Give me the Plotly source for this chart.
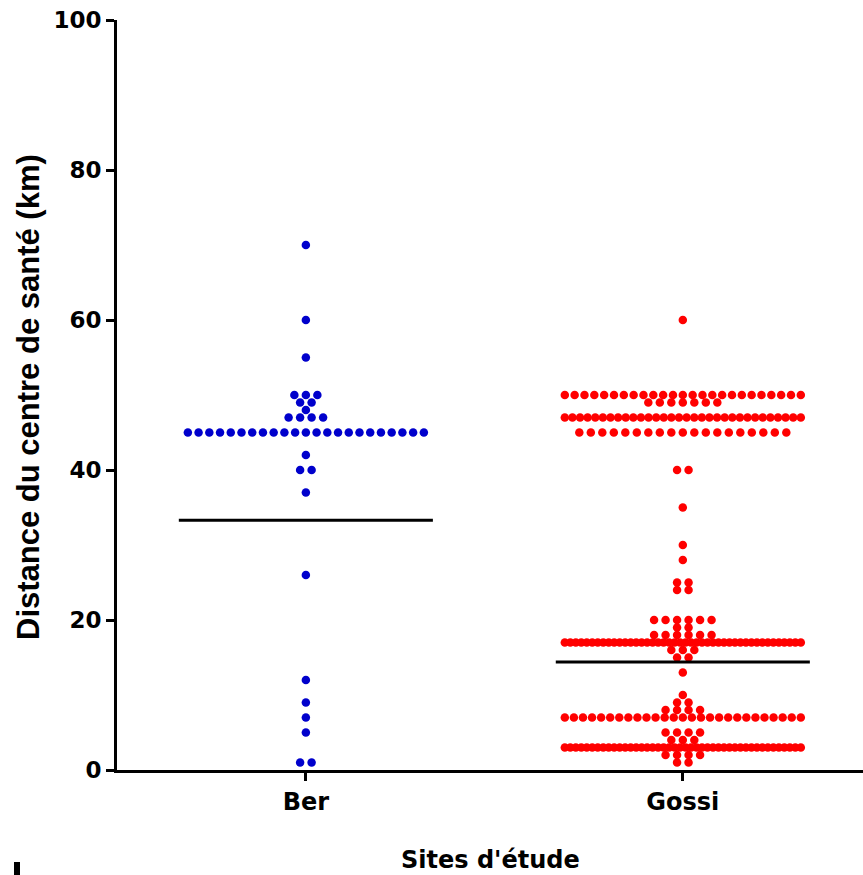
import numpy as np
import plotly.graph_objects as go

# Distance (km) to the health centre, per study site: distinct values and how many respondents gave each
sites = ["Ber", "Gossi"]

ber_values = [70, 60, 55, 50, 49, 48, 47, 45, 42, 40, 37, 26, 12, 9, 7, 5, 1]
ber_counts = [1, 1, 1, 3, 2, 1, 4, 23, 1, 2, 1, 1, 1, 1, 1, 1, 2]

gossi_values = [60, 50, 49, 47, 45, 40, 35, 30, 28, 25, 24, 20, 19, 18, 17, 16,
                15, 13, 10, 9, 8, 7, 5, 4, 3, 2, 1]
gossi_counts = [1, 25, 7, 32, 19, 2, 1, 1, 1, 2, 2, 6, 2, 6, 44, 3,
                2, 1, 1, 2, 4, 27, 4, 3, 44, 4, 2]

# Horizontal reference line drawn for each site
group_means = [33.3, 14.4]

colors = ["#0000CC", "#FF0000"]

W, H = 863, 875
ML, MR, MT, MB = 117, 0, 20, 105
x_range = [-0.501, 1.478]
px_per_unit = (W - ML - MR) / (x_range[1] - x_range[0])


def swarm(values, counts, center, step_px=11.5, max_half_px=118):
    """Spread equal values side by side around the column centre."""
    xs, ys = [], []
    step = step_px / px_per_unit
    max_half = max_half_px / px_per_unit
    for v, n in zip(values, counts):
        sp = step if n < 2 else min(step, 2 * max_half / (n - 1))
        for i in range(n):
            xs.append(center + (i - (n - 1) / 2) * sp)
            ys.append(v)
    return np.array(xs), np.array(ys)


fig = go.Figure()

groups = [(ber_values, ber_counts), (gossi_values, gossi_counts)]
for k, (vals, cnts) in enumerate(groups):
    xs, ys = swarm(vals, cnts, k)
    fig.add_trace(go.Scatter(
        x=xs, y=ys, mode="markers",
        marker=dict(size=8.5, color=colors[k], line=dict(width=0)),
        cliponaxis=False, showlegend=False, hoverinfo="y",
    ))

half = 0.337
for k, m in enumerate(group_means):
    fig.add_trace(go.Scatter(
        x=[k - half, k + half], y=[m, m], mode="lines",
        line=dict(color="black", width=3),
        showlegend=False, hoverinfo="y",
    ))

tick_font = dict(family="DejaVu Sans, Arial, sans-serif", size=23,
                 color="black", weight="bold")

fig.update_xaxes(
    range=x_range, tickvals=[0, 1], ticktext=sites,
    showline=True, linecolor="black", linewidth=3,
    ticks="outside", ticklen=8, tickwidth=3, tickcolor="black",
    showgrid=False, zeroline=False, tickfont=dict(tick_font, size=24),
)
fig.update_yaxes(
    range=[0, 100], tickvals=[0, 20, 40, 60, 80, 100],
    showline=True, linecolor="black", linewidth=3,
    ticks="outside", ticklen=8, tickwidth=3, tickcolor="black",
    showgrid=False, zeroline=False, tickfont=tick_font,
)

plot_w = W - ML - MR
plot_h = H - MT - MB
fig.add_annotation(
    text="<b>Distance du centre de santé (km)</b>", textangle=-90,
    xref="paper", yref="paper", x=(29 - ML) / plot_w, y=(770 - 397) / plot_h,
    xanchor="center", yanchor="middle", showarrow=False,
    font=dict(family="Liberation Sans, Arial, sans-serif", size=31, color="black"),
)
fig.add_annotation(
    text="<b>Sites d'étude</b>",
    xref="paper", yref="paper", x=0.5, y=-(860 - (H - MB)) / plot_h,
    xanchor="center", yanchor="middle", showarrow=False,
    font=dict(family="DejaVu Sans, Arial, sans-serif", size=24, color="black"),
)

# small stroke in the lower-left corner of the page
fig.add_shape(
    type="rect", xref="paper", yref="paper",
    x0=(14 - ML) / plot_w, x1=(20 - ML) / plot_w,
    y0=-(875 - (H - MB)) / plot_h, y1=-(862 - (H - MB)) / plot_h,
    fillcolor="black", line=dict(width=0),
)

fig.update_layout(
    width=W, height=H,
    margin=dict(l=ML, r=MR, t=MT, b=MB, pad=0),
    paper_bgcolor="white", plot_bgcolor="white",
)

fig.write_html("out.html")
